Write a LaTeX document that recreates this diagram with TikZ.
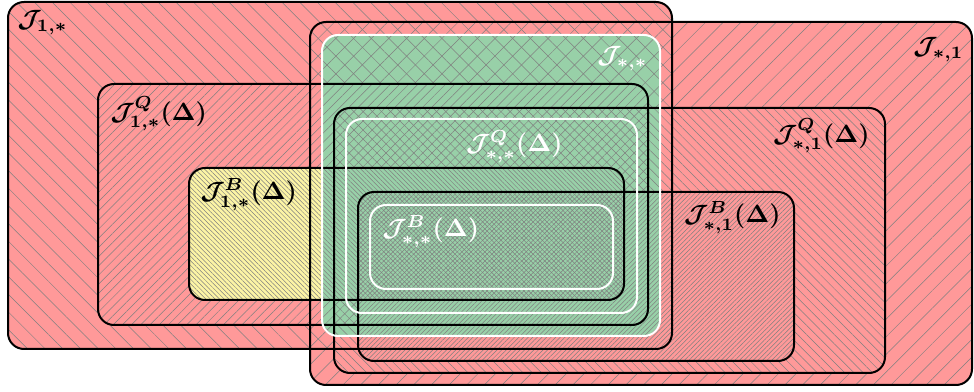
\documentclass[tikz,border=0pt]{standalone}
\usepackage{amsmath,amssymb}
\usetikzlibrary{patterns.meta}
\definecolor{jred}{RGB}{255,153,153}
\definecolor{jyel}{RGB}{252,244,165}
\definecolor{jgrn}{RGB}{152,208,168}
\newcommand{\jlab}[1]{$\boldsymbol{#1}$}

\begin{document}
\begin{tikzpicture}[x=0.4pt,y=-0.4pt,font=\normalsize,
  box/.style={rounded corners=6.4pt},
  rd/.style={box,fill=jred},
  yl/.style={box,fill=jyel},
  gr/.style={box,fill=jgrn},
  hatch/.style 2 args={box,pattern={Lines[angle=#1,distance=#2,line width=0.2pt]},pattern color=black!50},
  edge/.style={box,draw=black,line width=0.8pt},
  wedge/.style={box,draw=white,line width=0.8pt},
  lab/.style={inner sep=0pt},
  wlab/.style={inner sep=0pt,text=white}]
  \useasboundingbox (0,0) rectangle (974,392);
  % corners of the sets
  \coordinate (a1) at (8,2);      \coordinate (a2) at (672,349);
  \coordinate (b1) at (310,22);   \coordinate (b2) at (972,385);
  \coordinate (qa1) at (98,84);   \coordinate (qa2) at (648,325);
  \coordinate (qb1) at (334,108); \coordinate (qb2) at (885,373);
  \coordinate (ba1) at (189,168); \coordinate (ba2) at (624,300);
  \coordinate (bb1) at (358,192); \coordinate (bb2) at (794,361);
  \coordinate (c1) at (322,35);   \coordinate (c2) at (660,336);
  \coordinate (qc1) at (346,119); \coordinate (qc2) at (637,313);
  \coordinate (bc1) at (370,205); \coordinate (bc2) at (613,289);
  % level 1
  \fill[rd] (a1) rectangle (a2); \fill[rd] (b1) rectangle (b2);
  \fill[gr] (c1) rectangle (c2);
  \path[hatch={-45}{5pt}] (a1) rectangle (a2);
  \path[hatch={45}{5pt}] (b1) rectangle (b2);
  % level 2 (Q)
  \fill[rd] (qa1) rectangle (qa2); \fill[rd] (qb1) rectangle (qb2);
  \begin{scope} \clip[box] (qa1) rectangle (qa2); \fill[gr] (c1) rectangle (c2); \end{scope}
  \begin{scope} \clip[box] (qb1) rectangle (qb2); \fill[gr] (c1) rectangle (c2); \end{scope}
  \path[hatch={45}{2.6pt}] (qa1) rectangle (qa2);
  \path[hatch={-45}{2.6pt}] (qb1) rectangle (qb2);
  % level 3 (B)
  \fill[yl] (ba1) rectangle (ba2); \fill[rd] (bb1) rectangle (bb2);
  \begin{scope} \clip[box] (ba1) rectangle (ba2); \fill[gr] (c1) rectangle (c2); \end{scope}
  \begin{scope} \clip[box] (bb1) rectangle (bb2); \fill[gr] (c1) rectangle (c2); \end{scope}
  \path[hatch={-45}{1.3pt}] (ba1) rectangle (ba2);
  \path[hatch={45}{1.3pt}] (bb1) rectangle (bb2);
  % borders
  \draw[edge] (a1) rectangle (a2);   \draw[edge] (b1) rectangle (b2);
  \draw[edge] (qa1) rectangle (qa2); \draw[edge] (qb1) rectangle (qb2);
  \draw[edge] (ba1) rectangle (ba2); \draw[edge] (bb1) rectangle (bb2);
  \draw[wedge] (c1) rectangle (c2);
  \draw[wedge] (qc1) rectangle (qc2);
  \draw[wedge] (bc1) rectangle (bc2);
  % labels
  \node[lab,anchor=north west] (la) at (17,10) {\jlab{\mathcal{J}_{1,*}}};
  \node[lab,anchor=north east] (lb) at (964,37) {\jlab{\mathcal{J}_{*,1}}};
  \node[lab,anchor=north west] (lqa) at (110,96) {\jlab{\mathcal{J}^{Q}_{1,*}(\Delta)}};
  \node[lab,anchor=north east] (lqb) at (870,118) {\jlab{\mathcal{J}^{Q}_{*,1}(\Delta)}};
  \node[lab,anchor=north west] (lba) at (200,178) {\jlab{\mathcal{J}^{B}_{1,*}(\Delta)}};
  \node[lab,anchor=north east] (lbb) at (781,201) {\jlab{\mathcal{J}^{B}_{*,1}(\Delta)}};
  \node[wlab,anchor=north east] (lc) at (648,46) {\jlab{\mathcal{J}_{*,*}}};
  \node[wlab,anchor=north east] (lqc) at (563,130) {\jlab{\mathcal{J}^{Q}_{*,*}(\Delta)}};
  \node[wlab,anchor=north west] (lbc) at (382,215) {\jlab{\mathcal{J}^{B}_{*,*}(\Delta)}};
\end{tikzpicture}
\end{document}
